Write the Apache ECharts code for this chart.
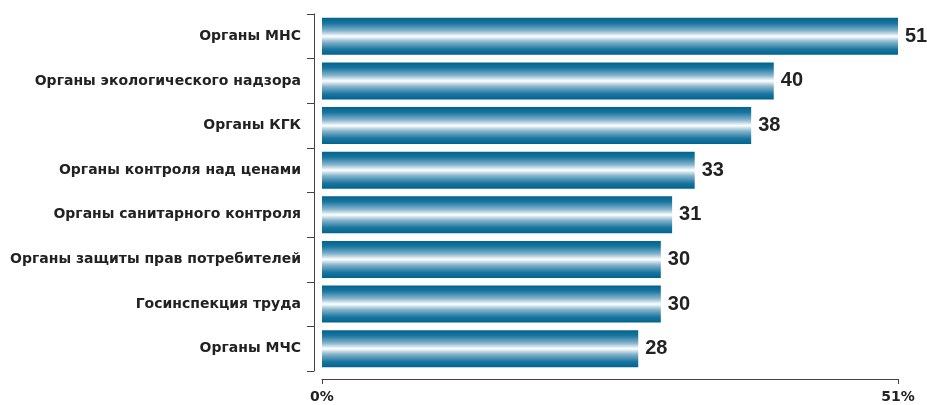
<!DOCTYPE html>
<html>
<head>
<meta charset="utf-8">
<script src="https://cdn.jsdelivr.net/npm/echarts@6/dist/echarts.min.js"></script>
<style>
  html, body { margin: 0; padding: 0; background: #fff; }
</style>
</head>
<body>
<div id="chart" style="width: 927px; height: 405px;"></div>
<script>
// органы и доли (%)
var categories = [
  'Органы МНС',
  'Органы экологического надзора',
  'Органы КГК',
  'Органы контроля над ценами',
  'Органы санитарного контроля',
  'Органы защиты прав потребителей',
  'Госинспекция труда',
  'Органы МЧС'
]
var values = [51, 40, 38, 33, 31, 30, 30, 28]
var axisMax = 51

var myChart = echarts.init(document.getElementById('chart'))
var option = {
  animation: false,
  grid: {
    left: 322,
    right: 29,
    top: 14,
    bottom: 34
  },
  xAxis: {
    type: 'value',
    min: 0,
    max: axisMax,
    interval: axisMax,
    offset: 8,
    axisLine: {
      show: true,
      onZero: false,
      lineStyle: { color: '#444', width: 1 }
    },
    axisTick: {
      show: true,
      length: 5,
      lineStyle: { color: '#444' }
    },
    splitLine: { show: false },
    axisLabel: {
      formatter: '{value}%',
      color: '#222',
      fontFamily: 'DejaVu Sans',
      fontWeight: 'bold',
      fontSize: 14,
      margin: 11
    }
  },
  yAxis: {
    type: 'category',
    inverse: true,
    data: categories,
    offset: 8,
    axisLine: {
      show: true,
      onZero: false,
      lineStyle: { color: '#444', width: 1 }
    },
    axisTick: {
      show: true,
      length: 7,
      lineStyle: { color: '#444' }
    },
    axisLabel: {
      color: '#222',
      fontFamily: 'DejaVu Sans',
      fontWeight: 'bold',
      fontSize: 14,
      margin: 13
    }
  },
  series: [
    {
      type: 'bar',
      data: values,
      barWidth: 37,
      itemStyle: {
        color: new echarts.graphic.LinearGradient(0, 0, 0, 1, [
          { offset: 0, color: '#00648c' },
          { offset: 0.15, color: '#1a75a0' },
          { offset: 0.35, color: '#86b4cc' },
          { offset: 0.5, color: '#ffffff' },
          { offset: 0.65, color: '#86b4cc' },
          { offset: 0.85, color: '#1a75a0' },
          { offset: 1, color: '#00648c' }
        ])
      },
      label: {
        show: true,
        position: 'right',
        distance: 7,
        color: '#222',
        fontFamily: 'Liberation Sans',
        fontWeight: 'bold',
        fontSize: 20
      }
    }
  ]
}
myChart.setOption(option)
</script>
</body>
</html>
